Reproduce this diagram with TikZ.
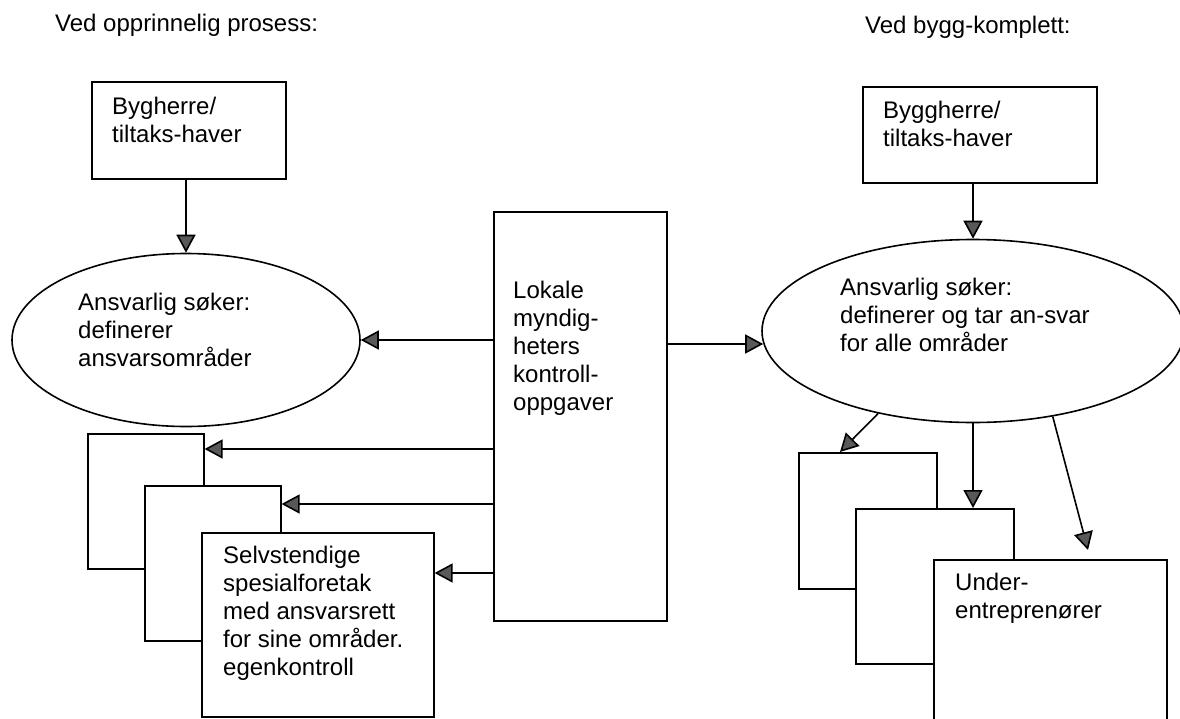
\documentclass[tikz,border=0pt]{standalone}
\usepackage{fontspec}
\setmainfont{Liberation Sans}
\usetikzlibrary{arrows.meta,shapes.geometric}
\begin{document}
\begin{tikzpicture}[x=1pt,y=-1pt,
  box/.style={draw, line width=1.6pt, fill=white, inner sep=0pt, anchor=north west},
  ell/.style={draw, ellipse, line width=1.6pt, inner sep=0pt},
  arr/.style={draw, line width=1.6pt, -{Triangle[length=18pt,width=19pt,fill=black!65]}},
  lbl/.style={anchor=north west, inner sep=0pt, align=left, font=\fontsize{24}{28}\selectfont},
  ttl/.style={anchor=base west, inner sep=0pt, font=\fontsize{24}{28}\selectfont}]
\useasboundingbox[fill=white] (0,0) rectangle (1180,718);

% titles
\node[ttl] (t1) at (55,31) {Ved opprinnelig prosess:};
\node[ttl] (t2) at (865,33) {Ved bygg-komplett:};

% left side
\node[box, minimum width=194pt, minimum height=97pt] (bygL) at (91,81) {};
\node[lbl] (bygLt) at (112,97) {Bygherre/\\tiltaks-haver};
\node[ell, minimum width=348pt, minimum height=173pt] (ellL) at (186,340) {};
\node[lbl] (ellLt) at (78,293) {Ansvarlig søker:\\definerer\\ansvarsområder};

\node[box, minimum width=116pt, minimum height=135pt] (L1) at (87,433) {};
\node[box, minimum width=136pt, minimum height=155pt] (L2) at (144,485) {};
\node[box, minimum width=232pt, minimum height=184pt] (L3) at (201,532) {};
\node[lbl] (L3t) at (223,546) {Selvstendige\\spesialforetak\\med ansvarsrett\\for sine områder.\\egenkontroll};

% middle
\node[box, minimum width=173pt, minimum height=409pt] (lok) at (493,211) {};
\node[lbl] (lokt) at (513,281) {Lokale\\myndig-\\heters\\kontroll-\\oppgaver};

% right side
\node[box, minimum width=234pt, minimum height=96pt] (bygR) at (862,86) {};
\node[lbl] (bygRt) at (883,101) {Byggherre/\\tiltaks-haver};
\node[ell, minimum width=422pt, minimum height=183pt] (ellR) at (973,331) {};
\node[lbl] (ellRt) at (840,278) {Ansvarlig søker:\\definerer og tar an-svar\\for alle områder};

\node[box, minimum width=138pt, minimum height=136pt] (R1) at (798,452) {};
\node[box, minimum width=158pt, minimum height=155pt] (R2) at (855,508) {};
\node[box, minimum width=233pt, minimum height=190pt] (R3) at (933,559) {};
\node[lbl] (R3t) at (955,573) {Under-\\entreprenører};

% helper coordinates
\coordinate (a1) at (0,449);
\coordinate (a2) at (0,504);
\coordinate (a3) at (0,573);
\coordinate (ar) at (0,344);
\coordinate (e1) at (840,452);
\coordinate (e3) at (1088,550);

% connectors
\draw[arr] (bygL.south -| ellL.north) -- (ellL.north);
\draw[arr] (bygR.south -| ellR.north) -- (ellR.north);
\draw[arr] (lok.west |- ellL.east) -- (ellL.east);
\draw[arr] (lok.east |- ar) -- ([xshift=2pt]ellR.west |- ar);
\draw[arr] (lok.west |- a1) -- (L1.east |- a1);
\draw[arr] (lok.west |- a2) -- (L2.east |- a2);
\draw[arr] (lok.west |- a3) -- (L3.east |- a3);
\draw[arr] (ellR.221) -- (e1);
\draw[arr] (ellR.south) -- (ellR.south |- R2.north);
\draw[arr] (ellR.313) -- (e3);
\end{tikzpicture}
\end{document}
